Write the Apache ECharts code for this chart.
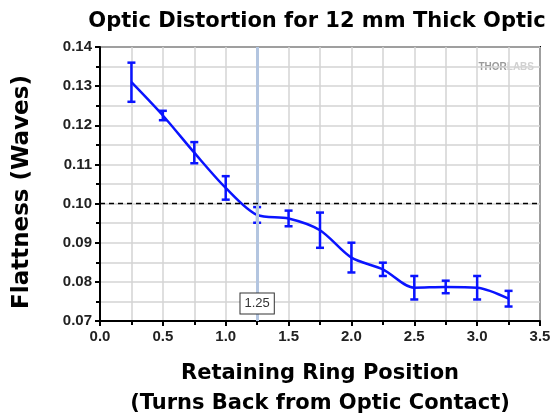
<!DOCTYPE html>
<html>
<head>
<meta charset="utf-8">
<script src="https://cdn.jsdelivr.net/npm/echarts@6/dist/echarts.min.js"></script>
<style>
  html, body { margin: 0; padding: 0; background: #fff; }
  #chart { width: 554px; height: 419px; }
</style>
</head>
<body>
<div id="chart"></div>
<script>
// turns back from contact
const positions = [0.25, 0.5, 0.75, 1.0, 1.25, 1.5, 1.75, 2.0, 2.25, 2.5, 2.75, 3.0, 3.25];
// flatness (waves)
const flatness = [0.131, 0.1225, 0.113, 0.104, 0.0971, 0.0962, 0.0932, 0.0862, 0.0832, 0.0785, 0.0787, 0.0785, 0.0757];
// +/- error
const errors = [0.005, 0.0012, 0.0027, 0.003, 0.002, 0.002, 0.0045, 0.0038, 0.0017, 0.003, 0.0016, 0.003, 0.002];

const refLineX = 1.25;
const refLineY = 0.10;

const boldFont = 'Liberation Sans';
const blue = '#0a14ff';

const chart = echarts.init(document.getElementById('chart'));

const lineData = positions.map((x, i) => [x, flatness[i]]);
const errData = positions.map((x, i) => [x, flatness[i] - errors[i], flatness[i] + errors[i]]);

const option = {
  animation: false,
  title: {
    text: 'Optic Distortion for 12 mm Thick Optic',
    left: 312,
    top: 6,
    textAlign: 'center',
    textStyle: { fontFamily: 'DejaVu Sans', fontWeight: 'bold', fontSize: 21, color: '#000' }
  },
  grid: {
    left: 100, right: 14, top: 47, bottom: 98,
    outerBoundsMode: 'none',
    show: true, borderColor: '#000', borderWidth: 2, backgroundColor: '#fff'
  },
  xAxis: {
    type: 'value',
    min: 0, max: 3.5, interval: 0.5,
    name: 'Retaining Ring Position\n(Turns Back from Optic Contact)',
    nameLocation: 'middle',
    nameGap: 38,
    nameTextStyle: { fontFamily: 'DejaVu Sans', fontWeight: 'bold', fontSize: 21, lineHeight: 30, color: '#000' },
    axisLine: { show: true, onZero: false, lineStyle: { color: '#000', width: 2 } },
    axisTick: { show: true, length: 5, lineStyle: { color: '#000', width: 2 } },
    minorTick: { show: true, splitNumber: 2, length: 4, lineStyle: { color: '#000', width: 2 } },
    splitLine: { show: true, lineStyle: { color: '#d4d4d4', width: 1.5 } },
    minorSplitLine: { show: true, lineStyle: { color: '#d4d4d4', width: 1.5 } },
    axisLabel: {
      margin: 8,
      fontFamily: boldFont, fontWeight: 'bold', fontSize: 15, color: '#222',
      formatter: v => v.toFixed(1)
    }
  },
  yAxis: {
    type: 'value',
    min: 0.07, max: 0.14, interval: 0.01,
    name: 'Flattness (Waves)',
    nameLocation: 'middle',
    nameGap: 66,
    nameTextStyle: {
      fontFamily: 'DejaVu Sans', fontWeight: 'bold', fontSize: 23, color: '#000',
      padding: [0, 16, 0, 0]
    },
    axisLine: { show: true, onZero: false, lineStyle: { color: '#000', width: 2 } },
    axisTick: { show: true, length: 5, lineStyle: { color: '#000', width: 2 } },
    minorTick: { show: true, splitNumber: 2, length: 4, lineStyle: { color: '#000', width: 2 } },
    splitLine: { show: true, lineStyle: { color: '#d4d4d4', width: 1.5 } },
    minorSplitLine: { show: true, lineStyle: { color: '#d4d4d4', width: 1.5 } },
    axisLabel: {
      margin: 8,
      fontFamily: boldFont, fontWeight: 'bold', fontSize: 15, color: '#222',
      formatter: v => v.toFixed(2)
    }
  },
  graphic: [
    {
      type: 'text', right: 20, top: 62,
      style: {
        text: '{a|THOR}{b|LABS}',
        rich: {
          a: { fontFamily: boldFont, fontWeight: 'bold', fontSize: 10, fill: '#9a9a9a' },
          b: { fontFamily: boldFont, fontWeight: 'bold', fontSize: 10, fill: '#d0d0d0' }
        }
      }
    }
  ],
  series: [
    {
      // reference lines
      type: 'line',
      data: [],
      silent: true,
      markLine: {
        symbol: 'none',
        silent: true,
        label: { show: false },
        data: [
          { xAxis: refLineX, lineStyle: { color: '#b3c5e0', width: 3, type: 'solid' } },
          { yAxis: refLineY, lineStyle: { color: '#000', width: 1.3, type: [5, 4] } }
        ]
      },
      markPoint: {
        symbol: 'rect',
        symbolSize: 0,
        data: [{ coord: [refLineX, 0.0745] }],
        label: {
          show: true,
          formatter: '1.25',
          position: 'inside',
          fontFamily: 'Liberation Sans', fontSize: 13, color: '#333',
          backgroundColor: '#fff', borderColor: '#333', borderWidth: 1,
          padding: [4, 4, 3, 4]
        }
      },
      z: 1
    },
    {
      type: 'line',
      data: lineData,
      smooth: 0.3,
      symbol: 'none',
      lineStyle: { color: blue, width: 2.5 },
      z: 3
    },
    {
      type: 'custom',
      data: errData,
      z: 4,
      renderItem: function (params, api) {
        const x = api.value(0);
        const lo = api.coord([x, api.value(1)]);
        const hi = api.coord([x, api.value(2)]);
        const cap = 4;
        const style = { stroke: blue, lineWidth: 2.5 };
        return {
          type: 'group',
          children: [
            { type: 'line', shape: { x1: lo[0], y1: lo[1], x2: hi[0], y2: hi[1] }, style },
            { type: 'line', shape: { x1: lo[0] - cap, y1: lo[1], x2: lo[0] + cap, y2: lo[1] }, style },
            { type: 'line', shape: { x1: hi[0] - cap, y1: hi[1], x2: hi[0] + cap, y2: hi[1] }, style }
          ]
        };
      }
    }
  ]
};

chart.setOption(option);
</script>
</body>
</html>
